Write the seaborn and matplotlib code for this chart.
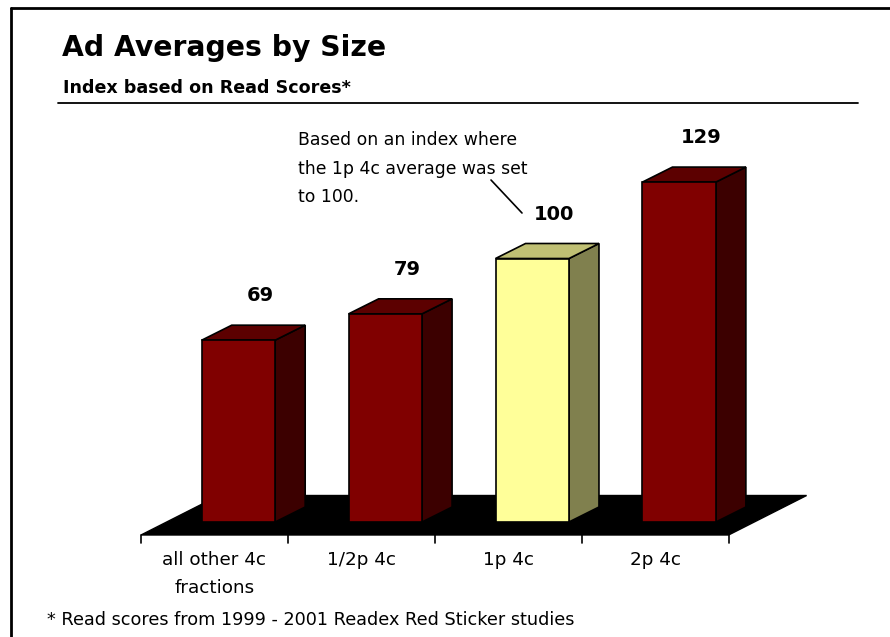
import numpy as np
import pandas as pd
import matplotlib
matplotlib.use("Agg")
import matplotlib.pyplot as plt
import seaborn as sns
from matplotlib.patches import Polygon
from matplotlib.lines import Line2D

# chart data
categories = ["all other 4c\nfractions", "1/2p 4c", "1p 4c", "2p 4c"]
values = [69, 79, 100, 129]
bar_colors = ["#800000", "#800000", "#FFFF99", "#800000"]
top_colors = ["#5C0000", "#5C0000", "#C0C074", "#5C0000"]
side_colors = ["#3C0000", "#3C0000", "#80804E", "#3C0000"]

title = "Ad Averages by Size"
subtitle = "Index based on Read Scores*"
note = "Based on an index where\nthe 1p 4c average was set\nto 100."
footnote = "* Read scores from 1999 - 2001 Readex Red Sticker studies"

sns.set_theme(style="white")
plt.rcParams["font.family"] = ["DejaVu Sans"]
plt.rcParams["text.color"] = "black"

W, H = 890, 637
fig = plt.figure(figsize=(W / 100, H / 100), dpi=100)
ax = fig.add_axes([0, 0, 1, 1])
ax.set_axis_off()

# pixel geometry of the plot area
x0_px, slot_px = 141, 146.9      # left edge of first slot, slot width
base_px, unit_px = 522, 2.635    # baseline pixel row, pixels per index point
ax.set_xlim((0 - x0_px) / slot_px - 0.5, (W - x0_px) / slot_px - 0.5)
ax.set_ylim((base_px - H) / unit_px, base_px / unit_px)

px_x = 1 / slot_px
px_y = 1 / unit_px

# bars shifted into the middle of the floor depth
df = pd.DataFrame({"cat": categories, "value": values,
                   "pos": np.arange(len(values)) + 24 * px_x})
sns.barplot(data=df, x="pos", y="value", hue="cat", native_scale=True,
            palette=dict(zip(categories, bar_colors)), width=0.5,
            legend=False, ax=ax, edgecolor="black", linewidth=1.2,
            saturation=1, zorder=5)

# floor
floor_y = -13 * px_y
fdx, fdy = 78 * px_x, 39.5 * px_y
n = len(values)
floor = Polygon([(-0.5, floor_y), (n - 0.5, floor_y),
                 (n - 0.5 + fdx, floor_y + fdy), (-0.5 + fdx, floor_y + fdy)],
                closed=True, facecolor="black", edgecolor="black", zorder=1)
ax.add_patch(floor)

# 3D side and top faces
bdx, bdy = 30 * px_x, 15 * px_y
for i, p in enumerate(ax.patches[:n]):
    x, w, h = p.get_x(), p.get_width(), p.get_height()
    side = Polygon([(x + w, 0), (x + w + bdx, bdy), (x + w + bdx, h + bdy), (x + w, h)],
                   closed=True, facecolor=side_colors[i], edgecolor="black",
                   linewidth=1.2, zorder=4)
    top = Polygon([(x, h), (x + w, h), (x + w + bdx, h + bdy), (x + bdx, h + bdy)],
                  closed=True, facecolor=top_colors[i], edgecolor="black",
                  linewidth=1.2, zorder=4)
    ax.add_patch(side)
    ax.add_patch(top)
    ax.text(x + w / 2 + bdx / 2 + 7 * px_x, h + bdy + 24 * px_y, str(values[i]),
            ha="center", va="baseline", fontsize=14, fontweight="bold", color="black")

# category ticks and labels
for k in range(n + 1):
    ax.add_line(Line2D([k - 0.5, k - 0.5], [floor_y, floor_y - 8 * px_y],
                       color="black", linewidth=1.2, zorder=2))
for k, lab in enumerate(categories):
    ax.text(k, floor_y - 16 * px_y, lab, ha="center", va="top", fontsize=13.2,
            linespacing=1.7, color="black")


def fx(px):
    return px / W


def fy(py):
    return 1 - py / H


# titles, rule, frame
fig.text(fx(62), fy(48), title, fontsize=20.3, fontweight="bold", va="center",
         ha="left", color="black")
fig.text(fx(63), fy(88), subtitle, fontsize=12.6, fontweight="bold", va="center",
         ha="left", color="black")
fig.add_artist(Line2D([fx(58), fx(858)], [fy(103), fy(103)], color="black", linewidth=1.3))
fig.add_artist(Line2D([fx(11), fx(890)], [fy(8), fy(8)], color="black", linewidth=2))
fig.add_artist(Line2D([fx(11), fx(11)], [fy(8), fy(H)], color="black", linewidth=2))

# annotation with leader line
fig.text(fx(298), fy(131), note, fontsize=12.4, va="top", ha="left",
         linespacing=1.75, color="black")
fig.add_artist(Line2D([fx(491), fx(522)], [fy(180), fy(213)], color="black", linewidth=1.2))

fig.text(fx(47), fy(620), footnote, fontsize=12.7, va="center", ha="left", color="black")

fig.savefig("out.png", dpi=100)
